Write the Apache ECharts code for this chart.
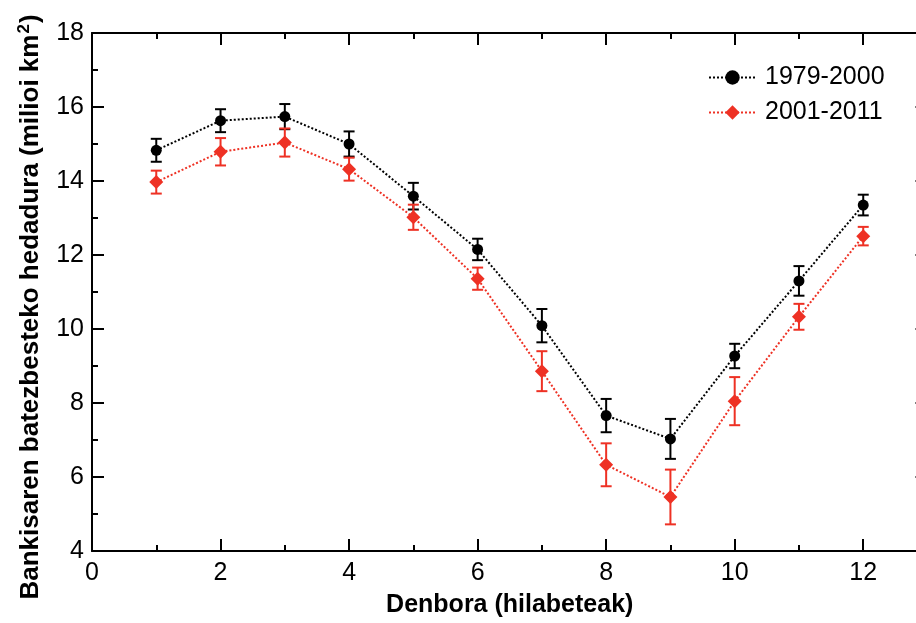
<!DOCTYPE html>
<html>
<head>
<meta charset="utf-8">
<script src="https://cdn.jsdelivr.net/npm/echarts@6/dist/echarts.min.js"></script>
<style>
html,body{margin:0;padding:0;background:#fff;}
#chart{width:916px;height:623px;}
</style>
</head>
<body>
<div id="chart"></div>
<script>
const months = [1,2,3,4,5,6,7,8,9,10,11,12];
const mean7900 = [14.83,15.63,15.74,15.00,13.59,12.15,10.09,7.66,7.03,9.27,11.30,13.35];
const err7900  = [0.31,0.31,0.34,0.34,0.36,0.29,0.45,0.45,0.54,0.33,0.40,0.28];
const mean0111 = [13.97,14.79,15.04,14.32,13.02,11.36,8.86,6.33,5.46,8.05,10.33,12.51];
const err0111  = [0.31,0.37,0.38,0.31,0.34,0.30,0.54,0.58,0.74,0.65,0.35,0.25];
const xTicks = [0,2,4,6,8,10,12];
const yTicks = [4,6,8,10,12,14,16,18];

const RED = '#ee3124';
const FONT = '"Liberation Sans", Arial, sans-serif';

function pairs(xs, ys){ return xs.map((x,i)=>[x, ys[i]]); }
function errData(xs, ys, es){ return xs.map((x,i)=>[x, ys[i]-es[i], ys[i]+es[i]]); }

function errRender(color){
  return function(params, api){
    const x = api.value(0);
    const lo = api.coord([x, api.value(1)]);
    const hi = api.coord([x, api.value(2)]);
    const w = 5.5;
    const style = {stroke: color, lineWidth: 2, fill: null};
    return {
      type: 'group',
      children: [
        {type:'line', shape:{x1:lo[0], y1:lo[1], x2:hi[0], y2:hi[1]}, style: style},
        {type:'line', shape:{x1:lo[0]-w, y1:lo[1], x2:lo[0]+w, y2:lo[1]}, style: style},
        {type:'line', shape:{x1:hi[0]-w, y1:hi[1], x2:hi[0]+w, y2:hi[1]}, style: style}
      ]
    };
  };
}

function axisParts(){
  return {
    axisLine: {show: true, onZero: false, lineStyle: {color: '#000', width: 2}},
    axisTick: {show: true, inside: true, length: 12, lineStyle: {color: '#000', width: 2}},
    minorTick: {show: true, splitNumber: 2, length: 6, lineStyle: {color: '#000', width: 2}},
    splitLine: {show: false},
    minorSplitLine: {show: false}
  };
}

const chart = echarts.init(document.getElementById('chart'), null, {renderer: 'canvas'});
chart.setOption({
  animation: false,
  backgroundColor: '#fff',
  textStyle: {fontFamily: FONT},
  grid: {left: 92, top: 33, width: 835.5, height: 518, containLabel: false, outerBoundsMode: 'none'},
  legend: {
    data: ['1979-2000', '2001-2011'],
    orient: 'vertical',
    left: 703, top: 60,
    itemWidth: 47, itemHeight: 18, itemGap: 10,
    textStyle: {fontFamily: FONT, fontSize: 25, color: '#000', padding: [0,0,0,4]}
  },
  xAxis: [
    Object.assign({
      type: 'value', position: 'bottom', min: 0, max: 13, interval: 2,
      axisLabel: {
        fontFamily: FONT, fontSize: 25, color: '#000', margin: 10,
        formatter: v => xTicks.includes(v) ? String(v) : ''
      },
      name: 'Denbora (hilabeteak)', nameLocation: 'middle', nameGap: 42,
      nameTextStyle: {fontFamily: FONT, fontSize: 25, fontWeight: 'bold', color: '#000'}
    }, axisParts()),
    Object.assign({
      type: 'value', position: 'top', min: 0, max: 13, interval: 2,
      axisLabel: {show: false}
    }, axisParts())
  ],
  yAxis: [
    Object.assign({
      type: 'value', position: 'left', min: 4, max: 18, interval: 2,
      axisLabel: {
        fontFamily: FONT, fontSize: 25, color: '#000', margin: 8,
        formatter: v => yTicks.includes(v) ? String(v) : ''
      },
      name: '{t|Bankisaren batezbesteko hedadura (milioi km}{s|2}{t|)}',
      nameLocation: 'middle', nameGap: 44,
      nameTextStyle: {
        color: '#000',
        padding: [0, 30, 0, 0],
        rich: {
          t: {fontFamily: FONT, fontSize: 26, fontWeight: 'bold', color: '#000', verticalAlign: 'bottom', lineHeight: 28},
          s: {fontFamily: FONT, fontSize: 17, fontWeight: 'bold', color: '#000', verticalAlign: 'top', lineHeight: 28, padding: [0,1,12,1]}
        }
      }
    }, axisParts()),
    Object.assign({
      type: 'value', position: 'right', min: 4, max: 18, interval: 2,
      axisLabel: {show: false}
    }, axisParts())
  ],
  series: [
    {
      type: 'custom', name: 'err1', xAxisIndex: 0, yAxisIndex: 0,
      renderItem: errRender('#000'),
      data: errData(months, mean7900, err7900), z: 2,
      encode: {x: 0, y: [1, 2]}
    },
    {
      type: 'custom', name: 'err2', xAxisIndex: 0, yAxisIndex: 0,
      renderItem: errRender(RED),
      data: errData(months, mean0111, err0111), z: 2,
      encode: {x: 0, y: [1, 2]}
    },
    {
      type: 'line', name: '1979-2000', xAxisIndex: 0, yAxisIndex: 0,
      data: pairs(months, mean7900),
      symbol: 'circle', symbolSize: 11,
      itemStyle: {color: '#000'},
      lineStyle: {color: '#000', width: 2, type: [2, 2]},
      z: 3
    },
    {
      type: 'line', name: '2001-2011', xAxisIndex: 0, yAxisIndex: 0,
      data: pairs(months, mean0111),
      symbol: 'diamond', symbolSize: 14,
      itemStyle: {color: RED},
      lineStyle: {color: RED, width: 2, type: [2, 2]},
      z: 3
    }
  ]
});
</script>
</body>
</html>
